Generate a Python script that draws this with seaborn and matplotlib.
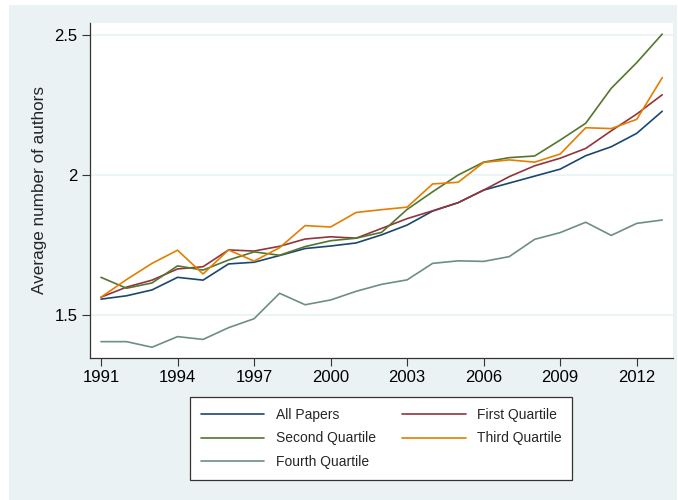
import matplotlib
matplotlib.use("Agg")
import matplotlib.pyplot as plt
import seaborn as sns
import pandas as pd
from matplotlib.patches import Rectangle
from matplotlib.lines import Line2D

years = list(range(1991, 2014))
all_papers = [1.556, 1.568, 1.589, 1.634, 1.624, 1.682, 1.688, 1.712, 1.737, 1.746, 1.757, 1.786,
              1.821, 1.871, 1.901, 1.946, 1.971, 1.996, 2.021, 2.069, 2.101, 2.149, 2.228]
first_q = [1.563, 1.599, 1.624, 1.664, 1.672, 1.732, 1.728, 1.745, 1.771, 1.779, 1.774, 1.809,
           1.844, 1.872, 1.901, 1.946, 1.994, 2.033, 2.060, 2.095, 2.158, 2.218, 2.287]
second_q = [1.634, 1.595, 1.614, 1.675, 1.660, 1.696, 1.725, 1.713, 1.744, 1.765, 1.774, 1.795,
            1.877, 1.940, 2.000, 2.046, 2.062, 2.068, 2.125, 2.185, 2.310, 2.402, 2.504]
third_q = [1.563, 1.626, 1.684, 1.731, 1.646, 1.732, 1.692, 1.740, 1.819, 1.814, 1.866, 1.876,
           1.885, 1.968, 1.974, 2.045, 2.054, 2.046, 2.075, 2.169, 2.166, 2.199, 2.348]
fourth_q = [1.404, 1.404, 1.384, 1.422, 1.412, 1.454, 1.486, 1.577, 1.536, 1.553, 1.584, 1.609,
            1.625, 1.684, 1.693, 1.691, 1.708, 1.770, 1.794, 1.831, 1.784, 1.827, 1.839]

series_names = ["All Papers", "First Quartile", "Second Quartile", "Third Quartile", "Fourth Quartile"]
series_vals = [all_papers, first_q, second_q, third_q, fourth_q]
colors = ["#1a476f", "#90353b", "#55752f", "#e37e00", "#6e8e84"]
x_ticks = list(range(1991, 2013, 3))
y_ticks = [1.5, 2, 2.5]
y_tick_labels = ["1.5", "2", "2.5"]

rows = []
for name, vals in zip(series_names, series_vals):
    for y, v in zip(years, vals):
        rows.append({"year": y, "value": v, "series": name})
df = pd.DataFrame(rows)

sns.set_style("white")
plt.rcParams["font.family"] = ["Liberation Sans", "DejaVu Sans"]

fig = plt.figure(figsize=(6.78, 5.0), dpi=100)
fig.patch.set_facecolor("white")
bg = Rectangle((9 / 678, 0), (677 - 9) / 678, 495 / 500, transform=fig.transFigure,
               facecolor="#eaf2f3", edgecolor="none", zorder=-10)
fig.patches.append(bg)

ax = fig.add_axes([89.5 / 678, (500 - 357.7) / 500, (672.7 - 89.5) / 678, (357.7 - 23) / 500])
ax.set_facecolor("white")

sns.lineplot(data=df, x="year", y="value", hue="series", hue_order=series_names,
             palette=colors, linewidth=1.2, ax=ax, legend=False)

ax.set_xlim(1990.549, 2013.41)
ax.set_ylim(1.3466, 2.5436)
ax.set_xticks(x_ticks)
ax.set_yticks(y_ticks)
ax.set_yticklabels(y_tick_labels)
ax.yaxis.grid(True, color="#eaf2f3", linewidth=1.2)
ax.xaxis.grid(False)
ax.set_axisbelow(True)
for s in ["top", "right"]:
    ax.spines[s].set_visible(False)
for s in ["left", "bottom"]:
    ax.spines[s].set_color("#333333")
    ax.spines[s].set_linewidth(0.9)
ax.tick_params(axis="both", which="major", direction="out", length=5.5, width=0.8,
               color="#333333", labelsize=12, labelcolor="black", pad=3,
               left=True, bottom=True)
ax.set_xlabel("")
ax.set_ylabel("Average number of authors", fontsize=12.3)
ax.yaxis.set_label_coords(-0.073, 0.5)

handles = [Line2D([0], [0], color=c, linewidth=1.2) for c in colors]
order = [0, 2, 4, 1, 3]
leg = fig.legend([handles[i] for i in order], [series_names[i] for i in order],
                 ncol=2, loc="upper center", bbox_to_anchor=(381.3 / 678, 1 - 397.3 / 500),
                 frameon=True, fancybox=False, edgecolor="#333333", facecolor="white",
                 fontsize=10, handlelength=4.6, handletextpad=0.84, columnspacing=1.85,
                 labelspacing=0.7, borderpad=0.75, borderaxespad=0, framealpha=1)
leg.get_frame().set_linewidth(0.9)

fig.savefig("out.png", dpi=100, facecolor=fig.get_facecolor())
